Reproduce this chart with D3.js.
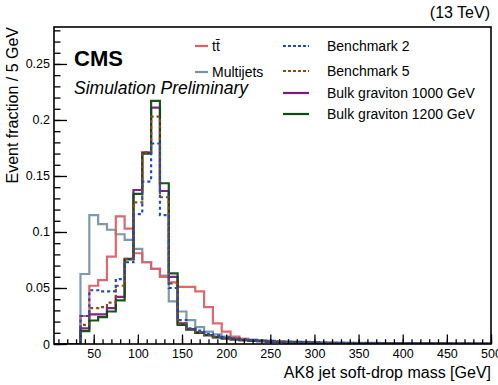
<!DOCTYPE html>
<html>
<head>
<meta charset="utf-8">
<script src="https://cdn.jsdelivr.net/npm/d3@7"></script>
<style>
  html, body { margin: 0; padding: 0; background: #fff; }
  svg { display: block; font-family: "Liberation Sans", Arial, sans-serif; }
</style>
</head>
<body>
<div id="chart"></div>
<script>
// Data: event fraction per 10 GeV bin, bins start at 5 GeV
const binLowEdges = d3.range(5, 500, 10);

const multijets = [0, 0, 0, 0.0625, 0.115, 0.107, 0.102, 0.098, 0.093, 0.085,
  0.073, 0.067, 0.061, 0.038, 0.029, 0.0214, 0.015, 0.011, 0.0086, 0.0065,
  0.0055, 0.0045, 0.004, 0.0035, 0.003, 0.0027, 0.0024, 0.0021, 0.0019, 0.0017,
  0.0015, 0.0014, 0.0013, 0.0012, 0.0011, 0.001, 0.001, 0.0009, 0.0009, 0.0008,
  0.0008, 0.0007, 0.0007, 0.0006, 0.0006, 0.0006, 0.0005, 0.0005, 0.0005, 0.0005];

const ttbar = [0, 0, 0, 0.025, 0.052, 0.057, 0.078, 0.114, 0.103, 0.081,
  0.073, 0.067, 0.060, 0.055, 0.051, 0.051, 0.047, 0.033, 0.0185, 0.011,
  0.0065, 0.0045, 0.0035, 0.0028, 0.0023, 0.0019, 0.0016, 0.0014, 0.0012, 0.001,
  0.0009, 0.0008, 0.0007, 0.0006, 0.0006, 0.0005, 0.0005, 0.0004, 0.0004, 0.0004,
  0.0003, 0.0003, 0.0003, 0.0003, 0.0002, 0.0002, 0.0002, 0.0002, 0.0002, 0.0002];

const benchmark2 = [0, 0, 0, 0.025, 0.048, 0.047, 0.047, 0.058, 0.073, 0.116,
  0.145, 0.179, 0.115, 0.050, 0.0214, 0.014, 0.012, 0.009, 0.0074, 0.006,
  0.005, 0.0042, 0.0035, 0.003, 0.0026, 0.0022, 0.002, 0.0018, 0.0016, 0.0014,
  0.0012, 0.0011, 0.001, 0.0009, 0.0008, 0.0008, 0.0007, 0.0006, 0.0006, 0.0005,
  0.0005, 0.0005, 0.0004, 0.0004, 0.0004, 0.0003, 0.0003, 0.0003, 0.0003, 0.0003];

const benchmark5 = [0, 0, 0, 0.017, 0.032, 0.033, 0.037, 0.052, 0.076, 0.1265,
  0.171, 0.203, 0.131, 0.054, 0.0185, 0.013, 0.0105, 0.008, 0.0065, 0.0052,
  0.0045, 0.0038, 0.0032, 0.0027, 0.0023, 0.002, 0.0017, 0.0015, 0.0013, 0.0011,
  0.001, 0.0009, 0.0008, 0.0007, 0.0007, 0.0006, 0.0005, 0.0005, 0.0005, 0.0004,
  0.0004, 0.0004, 0.0003, 0.0003, 0.0003, 0.0003, 0.0002, 0.0002, 0.0002, 0.0002];

const bulk1000 = [0, 0, 0, 0.014, 0.0265, 0.0265, 0.032, 0.042, 0.076, 0.1375,
  0.171, 0.211, 0.1366, 0.060, 0.0185, 0.013, 0.0105, 0.008, 0.0062, 0.005,
  0.0042, 0.0035, 0.003, 0.0025, 0.0021, 0.0018, 0.0015, 0.0013, 0.0011, 0.001,
  0.0009, 0.0008, 0.0007, 0.0006, 0.0006, 0.0005, 0.0005, 0.0004, 0.0004, 0.0004,
  0.0003, 0.0003, 0.0003, 0.0003, 0.0002, 0.0002, 0.0002, 0.0002, 0.0002, 0.0002];

const bulk1200 = [0, 0, 0, 0.0115, 0.021, 0.024, 0.029, 0.039, 0.0756, 0.134,
  0.170, 0.217, 0.1435, 0.063, 0.017, 0.013, 0.010, 0.008, 0.006, 0.005,
  0.0042, 0.0035, 0.003, 0.0025, 0.0021, 0.0018, 0.0016, 0.0014, 0.0012, 0.001,
  0.0009, 0.0008, 0.0007, 0.0007, 0.0006, 0.0005, 0.0005, 0.0005, 0.0004, 0.0004,
  0.0004, 0.0003, 0.0003, 0.0003, 0.0003, 0.0002, 0.0002, 0.0002, 0.0002, 0.0002];

const xMajorTicks = [50, 100, 150, 200, 250, 300, 350, 400, 450, 500];
const yMajorTicks = [0, 0.05, 0.1, 0.15, 0.2, 0.25];
const yTickLabels = ["0", "0.05", "0.1", "0.15", "0.2", "0.25"];

// 1. layout
const width = 498, height = 385;
const margin = { top: 27, right: 7, bottom: 41, left: 54 };
const plotW = width - margin.left - margin.right;
const plotH = height - margin.top - margin.bottom;
const binWidth = 10;

const svg = d3.select("#chart").append("svg")
  .attr("width", width)
  .attr("height", height);

const x = d3.scaleLinear().domain([5, 500]).range([0, plotW]);
const y = d3.scaleLinear().domain([0, 0.283]).range([plotH, 0]);

const chart = svg.append("g")
  .attr("transform", `translate(${margin.left},${margin.top})`);

svg.append("defs").append("clipPath").attr("id", "plot-clip")
  .append("rect").attr("width", plotW).attr("height", plotH);

// 2. histograms (drawing order matters for overlaps)
const series = [
  { name: "Multijets", values: multijets, color: "#7893a8", dash: null },
  { name: "ttbar", values: ttbar, color: "#dd5f65", dash: null },
  { name: "Bulk graviton 1000 GeV", values: bulk1000, color: "#7a1a80", dash: null },
  { name: "Bulk graviton 1200 GeV", values: bulk1200, color: "#0d4a12", dash: null },
  { name: "Benchmark 5", values: benchmark5, color: "#8a4a1c", dash: "3,3" },
  { name: "Benchmark 2", values: benchmark2, color: "#1c4cc0", dash: "3,3" }
];

const step = d3.line()
  .x(d => x(d[0]))
  .y(d => y(d[1]))
  .curve(d3.curveStepAfter);

const histGroup = chart.append("g").attr("clip-path", "url(#plot-clip)");

series.forEach(s => {
  const pts = binLowEdges.map((e, i) => [e, s.values[i]]);
  const last = binLowEdges.length - 1;
  pts.push([binLowEdges[last] + binWidth, s.values[last]]);
  histGroup.append("path")
    .datum(pts)
    .attr("fill", "none")
    .attr("stroke", s.color)
    .attr("stroke-width", 2.2)
    .attr("stroke-dasharray", s.dash)
    .attr("stroke-opacity", s.dash ? 1 : 0.95)
    .attr("d", step);
});

// 3. axes with inward ticks
const yMinor = chart.append("g")
  .call(d3.axisLeft(y).tickValues(d3.range(0, 0.2805, 0.01)).tickSize(-6.5).tickFormat(""));
const yMajor = chart.append("g")
  .call(d3.axisLeft(y).tickValues(yMajorTicks).tickSize(-13).tickPadding(4)
    .tickFormat((d, i) => yTickLabels[i]));

const xMinor = chart.append("g")
  .attr("transform", `translate(0,${plotH})`)
  .call(d3.axisBottom(x).tickValues(d3.range(10, 501, 10)).tickSize(-4.8).tickFormat(""));
const xMajor = chart.append("g")
  .attr("transform", `translate(0,${plotH})`)
  .call(d3.axisBottom(x).tickValues(xMajorTicks).tickSize(-9.5).tickPadding(5));

[yMinor, yMajor, xMinor, xMajor].forEach(g => {
  g.select(".domain").remove();
  g.selectAll(".tick line").attr("stroke", "#000").attr("stroke-width", 1.3);
  g.selectAll(".tick text")
    .attr("fill", "#000")
    .style("font-size", "12.5px")
    .style("font-family", "'Liberation Sans', Arial, sans-serif");
});

// frame
chart.append("rect")
  .attr("width", plotW)
  .attr("height", plotH)
  .attr("fill", "none")
  .attr("stroke", "#000")
  .attr("stroke-width", 1.6);

// 4. titles
svg.append("text")
  .attr("x", margin.left + plotW)
  .attr("y", 378)
  .attr("text-anchor", "end")
  .style("font-size", "16px")
  .text("AK8 jet soft-drop mass [GeV]");

svg.append("text")
  .attr("transform", `translate(18,${margin.top}) rotate(-90)`)
  .attr("text-anchor", "end")
  .style("font-size", "16px")
  .text("Event fraction / 5 GeV");

svg.append("text")
  .attr("x", 490)
  .attr("y", 18)
  .attr("text-anchor", "end")
  .style("font-size", "16px")
  .text("(13 TeV)");

svg.append("text")
  .attr("x", 74)
  .attr("y", 66)
  .style("font-size", "22px")
  .style("font-weight", "bold")
  .text("CMS");

svg.append("text")
  .attr("x", 74)
  .attr("y", 94)
  .style("font-size", "17.5px")
  .style("font-style", "italic")
  .text("Simulation Preliminary");

// 5. legend
const legendItems = [
  { label: "tt\u0304", color: "#dd5f65", dash: null, x0: 195, x1: 208, tx: 212, y: 46 },
  { label: "Multijets", color: "#7893a8", dash: null, x0: 195, x1: 208, tx: 212, y: 72 },
  { label: "Benchmark 2", color: "#1c4cc0", dash: "3,2", x0: 283, x1: 309, tx: 327, y: 46 },
  { label: "Benchmark 5", color: "#8a4a1c", dash: "3,2", x0: 283, x1: 309, tx: 327, y: 71 },
  { label: "Bulk graviton 1000 GeV", color: "#7a1a80", dash: null, x0: 283, x1: 309, tx: 327, y: 93 },
  { label: "Bulk graviton 1200 GeV", color: "#0d4a12", dash: null, x0: 283, x1: 309, tx: 327, y: 114 }
];

const legend = svg.append("g");
legendItems.forEach(d => {
  legend.append("line")
    .attr("x1", d.x0).attr("x2", d.x1)
    .attr("y1", d.y).attr("y2", d.y)
    .attr("stroke", d.color)
    .attr("stroke-width", 2.2)
    .attr("stroke-dasharray", d.dash);
  legend.append("text")
    .attr("x", d.tx)
    .attr("y", d.y)
    .attr("dy", "0.36em")
    .style("font-size", "14px")
    .text(d.label);
});
</script>
</body>
</html>
